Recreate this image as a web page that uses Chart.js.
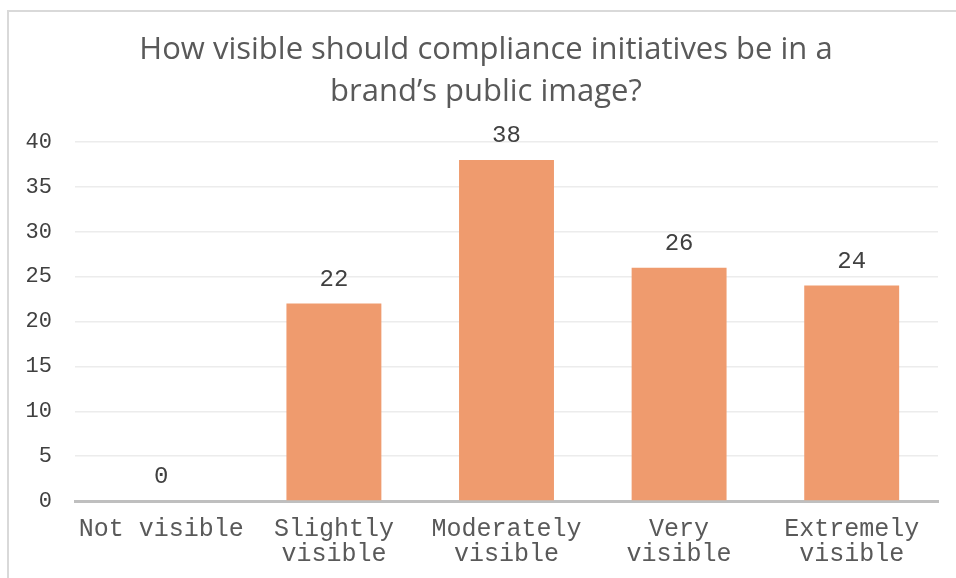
<!DOCTYPE html>
<html>
<head>
<meta charset="utf-8">
<script src="https://cdn.jsdelivr.net/npm/chart.js@4"></script>
<style>
html,body{margin:0;padding:0;background:#fff;}
#wrap{position:relative;width:956px;height:578px;overflow:hidden;}
#frame{position:absolute;left:7px;top:10px;width:960px;height:600px;border:2px solid #D9D9D9;box-sizing:border-box;}
canvas{position:absolute;left:0;top:0;}
</style>
</head>
<body>
<div id="wrap"><div id="frame"></div><canvas id="c" width="956" height="578"></canvas></div>
<script>
const titleLines = ["How visible should compliance initiatives be in a", "brand\u2019s public image?"];
const categories = [["Not visible"], ["Slightly", "visible"], ["Moderately", "visible"], ["Very", "visible"], ["Extremely", "visible"]];
const values = [0, 22, 38, 26, 24];
const yMin = 0, yMax = 40, yStep = 5;

const MONO = "'Liberation Mono', 'DejaVu Sans Mono', monospace";

const titleDraw = {
  id: 'titleDraw',
  afterDraw(chart) {
    const ctx = chart.ctx;
    ctx.save();
    ctx.font = "31px 'Open Sans', sans-serif";
    ctx.fillStyle = "#595959";
    ctx.textAlign = "center";
    ctx.textBaseline = "middle";
    titleLines.forEach((t, i) => ctx.fillText(t, 486, 50 + i * 42));
    ctx.restore();
  }
};

const valueLabels = {
  id: 'valueLabels',
  afterDatasetsDraw(chart) {
    const ctx = chart.ctx;
    const meta = chart.getDatasetMeta(0);
    ctx.save();
    ctx.font = "24px " + MONO;
    ctx.fillStyle = "#404040";
    ctx.textAlign = "center";
    ctx.textBaseline = "bottom";
    meta.data.forEach((bar, i) => {
      ctx.fillText(String(values[i]), bar.x, bar.y - 12);
    });
    ctx.restore();
  }
};

new Chart(document.getElementById('c'), {
  type: 'bar',
  data: {
    labels: categories,
    datasets: [{
      data: values,
      backgroundColor: '#EF9B6E',
      borderWidth: 0,
      barPercentage: 0.55,
      categoryPercentage: 1.0
    }]
  },
  options: {
    responsive: false,
    animation: false,
    layout: { padding: { left: 7, right: 18, top: 142, bottom: 0 } },
    plugins: {
      legend: { display: false },
      tooltip: { enabled: false },
      title: { display: false }
    },
    scales: {
      x: {
        grid: { display: false, drawTicks: false },
        border: { display: true, color: '#BFBFBF', width: 3 },
        ticks: { color: '#595959', font: { family: MONO, size: 25, lineHeight: 1.0 }, padding: 16, maxRotation: 0, autoSkip: false },
        afterFit(s) { s.height = 77; }
      },
      y: {
        min: yMin, max: yMax,
        grid: { color: '#ECECEC', lineWidth: 1.5, drawTicks: false },
        border: { display: false },
        ticks: { stepSize: yStep, color: '#404040', font: { family: MONO, size: 22 }, padding: 23 },
        afterFit(s) { s.width = 68; }
      }
    }
  },
  plugins: [valueLabels, titleDraw]
});
</script>
</body>
</html>
